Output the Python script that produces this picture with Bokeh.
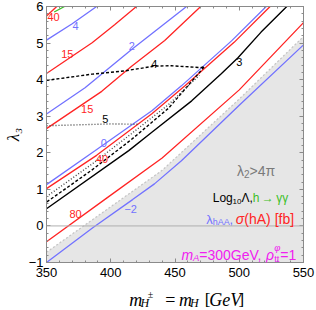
import numpy as np
from bokeh.plotting import figure
from bokeh.layouts import column
from bokeh.models import LinearAxis, FixedTicker, Span, Label, Range1d
from bokeh.embed import file_html
from bokeh.resources import INLINE
from bokeh.core.properties import value

# ---------------- data ----------------
X_MIN, X_MAX = 350, 550
Y_MIN, Y_MAX = -1, 6
X_TICKS = [350, 400, 450, 500, 550]
Y_TICKS = [-1, 0, 1, 2, 3, 4, 5, 6]
Y_TICK_LABELS = {-1: "\u22121"}

# lambda_hAA contours (blue)
lam4_x = [350, 370, 389]
lam4_y = [5.08, 5.53, 6.0]
lam2_x = [350, 380, 416, 459]
lam2_y = [3.06, 3.78, 4.82, 6.0]
lam0_x = [350, 388, 432, 455, 494, 521]
lam0_y = [1.13, 2.06, 3.15, 3.83, 5.06, 6.0]
lamm2_x = [350, 386, 417, 434, 455, 500, 550]
lamm2_y = [-1.0, -0.05, 0.72, 1.15, 1.78, 3.3, 4.95]

# sigma(hA) [fb] contours (red)
sig40a_x = [350, 358]
sig40a_y = [5.74, 6.0]
sig15a_x = [350, 385.5, 403, 420]
sig15a_y = [4.17, 5.01, 5.5, 6.0]
sig15b_x = [350, 393, 416, 442, 470]
sig15b_y = [2.66, 3.68, 4.36, 5.07, 6.0]
sig40b_x = [350, 389, 432, 458, 496, 524]
sig40b_y = [1.02, 1.93, 3.07, 3.84, 5.02, 6.0]
sig80_x = [350, 396, 440, 500, 550]
sig80_y = [-0.43, 0.74, 1.86, 3.72, 5.56]

# h -> gamma gamma (green)
hgg_x = [356, 364]
hgg_y = [5.85, 6.0]

# Log10 Lambda contours (black)
L3_x = [350, 414, 432, 463, 486, 499, 517, 537]
L3_y = [0.47, 2.06, 2.56, 3.42, 4.16, 4.60, 5.30, 6.0]
L4_x = [350, 385.5, 411, 434, 447, 470, 473, 445, 416, 385, 350]
L4_y = [3.98, 4.15, 4.24, 4.37, 4.38, 4.33, 4.36, 3.22, 2.36, 1.52, 0.65]
L5h_x = [350, 380, 400, 421]
L5h_y = [2.74, 2.77, 2.79, 2.78]
L5d_x = [350, 385, 416, 445, 469]
L5d_y = [0.80, 1.68, 2.52, 3.32, 4.12]

# lambda2 > 4 pi boundary (gray region)
gray_x = [350, 440, 500, 550]
gray_y = [-0.72, 1.52, 3.47, 5.18]

# ---------------- styles / layout ----------------
RED = "#ff2424"
BLUE = "#7272ff"
GREEN = "#3cbf28"
MAG = "#f020f0"
FRAME = "#8a8a8a"
SANS = "Liberation Sans"
SERIF = "Liberation Serif"

TOTAL_W, TOTAL_H = 316, 310
XT_H = 28                      # strip holding the x title
PW, PH = TOTAL_W, TOTAL_H - XT_H
BL, BR, BT, BB = 44, 13, 6, 20
FX0, FX1 = BL, PW - BR
FY0, FY1 = BT, PH - BB

p = figure(width=PW, height=PH, x_range=Range1d(X_MIN, X_MAX), y_range=Range1d(Y_MIN, Y_MAX),
           output_backend="svg", toolbar_location=None,
           x_axis_location=None, y_axis_location=None,
           min_border_left=BL, min_border_right=BR, min_border_top=BT, min_border_bottom=BB)
for g in p.grid:
    g.visible = False
p.outline_line_color = None
p.background_fill_color = "white"
p.border_fill_color = "white"


def make_axis(ticks, minor, labels, overrides=None, standoff=3):
    ax = LinearAxis(ticker=FixedTicker(ticks=ticks, minor_ticks=minor))
    ax.axis_line_color = FRAME
    ax.major_tick_line_color = FRAME
    ax.minor_tick_line_color = FRAME
    ax.major_tick_in, ax.major_tick_out = 4, 0
    ax.minor_tick_in, ax.minor_tick_out = 2, 0
    ax.major_label_text_font = SANS
    ax.major_label_text_font_size = "13px"
    ax.major_label_text_color = "black"
    if labels:
        ax.major_label_standoff = standoff
        if overrides:
            ax.major_label_overrides = overrides
    else:
        ax.major_label_standoff = 0
        ax.major_label_overrides = {t: "" for t in ticks}
    return ax


x_minor = list(range(X_MIN, X_MAX + 1, 10))
y_minor = [round(v, 1) for v in np.arange(Y_MIN, Y_MAX + 0.01, 0.2)]
p.add_layout(make_axis(X_TICKS, x_minor, True, standoff=5), "below")
p.add_layout(make_axis(X_TICKS, x_minor, False), "above")
yax = make_axis(Y_TICKS, y_minor, True, Y_TICK_LABELS, standoff=3)
yax.axis_label = "\u03bb\u2083"
yax.axis_label_text_font = SERIF
yax.axis_label_text_font_style = "italic"
yax.axis_label_text_font_size = "17px"
yax.axis_label_text_color = "black"
yax.axis_label_standoff = 3
p.add_layout(yax, "left")
p.add_layout(make_axis(Y_TICKS, y_minor, False), "right")

# gray excluded region
p.varea(x=gray_x, y1=Y_MIN, y2=gray_y, fill_color="#e6e6e6")
p.line(gray_x, gray_y, line_color="#c4c4c4", line_width=1.2, line_dash="2 2")
p.add_layout(Span(location=0, dimension="width", line_color="#b0b0b0", line_width=1))

lw = 1.3
for xs, ys in [(lam4_x, lam4_y), (lam2_x, lam2_y), (lam0_x, lam0_y), (lamm2_x, lamm2_y)]:
    p.line(xs, ys, line_color=BLUE, line_width=lw)
for xs, ys in [(sig40a_x, sig40a_y), (sig15a_x, sig15a_y), (sig15b_x, sig15b_y),
               (sig40b_x, sig40b_y), (sig80_x, sig80_y)]:
    p.line(xs, ys, line_color=RED, line_width=lw)
p.line(hgg_x, hgg_y, line_color=GREEN, line_width=lw)
p.line(L3_x, L3_y, line_color="black", line_width=1.4)
p.line(L4_x, L4_y, line_color="black", line_width=1.4, line_dash="3 2")
p.line(L5h_x, L5h_y, line_color="#444444", line_width=1.4, line_dash="1 2")
p.line(L5d_x, L5d_y, line_color="#444444", line_width=1.4, line_dash="1 2")

# contour labels
lab_text = ["40", "4", "15", "2", "4", "15", "5", "0", "40", "3", "80", "\u22122"]
lab_x = [355.5, 372.6, 366.2, 416.4, 433.9, 381.7, 395.8, 394.6, 393.2, 500.0, 372.6, 415.5]
lab_y = [5.70, 5.47, 4.71, 4.92, 4.42, 3.19, 2.92, 2.28, 1.83, 4.47, 0.33, 0.46]
lab_c = [RED, BLUE, RED, BLUE, "black", RED, "black", BLUE, RED, "black", RED, BLUE]
p.text(x=lab_x, y=lab_y, text=lab_text, text_color=lab_c, text_font=value(SANS),
       text_font_size="11px", text_align="center", text_baseline="middle")

# ---------------- rich text inside the frame ----------------
AW = {'L': .556, 'o': .556, 'g': .556, 'h': .556, 'A': .667, 'G': .778, 'e': .556, 'V': .667,
      'm': .833, 't': .278, 'f': .278, 'b': .556, ' ': .278, ',': .278, '=': .584, '>': .584,
      '(': .333, ')': .333, '[': .278, ']': .278, '\u03bb': .5, '\u039b': .667, '\u03b3': .5,
      '\u03c3': .617, '\u03c0': .6, '\u03c1': .578, '\u03c6': .65, '\u2192': 1.0, '\u2009': .2}


def twidth(s, size):
    return sum(AW.get(c, .556) for c in s) * size


def px2x(px):
    return X_MIN + (px - FX0) * (X_MAX - X_MIN) / (FX1 - FX0)


def ref_py2y(py):  # position read inside the reference frame
    return Y_MAX - (py - 5.5) * (Y_MAX - Y_MIN) / 256.5


def rich(px0, pybase, pieces, font=SANS):
    px = px0
    for text, color, size, style, dy, adv in pieces:
        p.add_layout(Label(x=px2x(px), y=ref_py2y(pybase + dy), text=text, text_color=color,
                           text_font=font, text_font_size=f"{size}px", text_font_style=style,
                           text_align="left", text_baseline="alphabetic"))
        if adv:
            px += twidth(text, size)


GRAYT = "#7a7a7a"
rich(236, 170, [("\u03bb", GRAYT, 14, "normal", 0, True),
                ("2", GRAYT, 10, "normal", 3, True),
                (">4\u03c0", GRAYT, 14, "normal", 0, True)])
rich(211.5, 197.5, [("Log", "black", 12, "normal", 0, True),
                    ("10", "black", 8, "normal", 3, True),
                    ("\u039b,", "black", 12, "normal", 0, True),
                    ("h\u2009\u2192\u2009\u03b3\u03b3", GREEN, 12, "normal", 0, True)])
rich(205, 218.5, [("\u03bb", BLUE, 13, "normal", 0, True),
                  ("hAA", BLUE, 9, "normal", 3, True),
                  (",\u2009", BLUE, 13, "normal", 0, True),
                  ("\u03c3", RED, 14, "italic", 0, True),
                  ("(hA) [fb]", RED, 14, "normal", 0, True)])
rich(180, 254, [("m", MAG, 14, "italic", 0, True),
                ("A", MAG, 9.5, "italic", 3, True),
                ("=300GeV, ", MAG, 14, "normal", 0, True),
                ("\u03c1", MAG, 14, "italic", 0, True),
                ("tt", MAG, 9.5, "normal", 3.5, False),
                ("\u03c6", MAG, 9.5, "italic", -7, True),
                ("=1", MAG, 14, "normal", 0, True)])

# ---------------- x title in its own strip ----------------
fx = figure(width=TOTAL_W, height=XT_H, x_range=Range1d(0, TOTAL_W), y_range=Range1d(0, XT_H),
            output_backend="svg", toolbar_location=None,
            x_axis_location=None, y_axis_location=None,
            min_border_left=0, min_border_right=0, min_border_top=0, min_border_bottom=0)
for g in fx.grid:
    g.visible = False
fx.outline_line_color = None
fx.background_fill_color = "white"
fx.border_fill_color = "white"


def xt(px, py, text, size, style):
    fx.text(x=[px], y=[TOTAL_H - py], text=[text], text_color="black", text_font=value(SERIF),
            text_font_size=f"{size}px", text_font_style=style,
            text_align="left", text_baseline="alphabetic")


B0, B1, B2 = 299.0, 302.8, 294.0     # baselines: main, subscript, superscript
xt(101.7, B0, "m", 18, "italic")
xt(115.5, B1, "H", 12, "italic")
xt(124.5, B2, "\u00b1", 10, "normal")
xt(146.0, B0, "=", 18, "normal")
xt(163.0, B0, "m", 18, "italic")
xt(176.5, B1, "H", 12, "italic")
xt(194.5, B0, "[", 17, "normal")
xt(200.0, B0, "GeV", 18, "italic")
xt(236.0, B0, "]", 17, "normal")

layout = column(p, fx, spacing=0)
open("out.html", "w").write(file_html(layout, INLINE))
